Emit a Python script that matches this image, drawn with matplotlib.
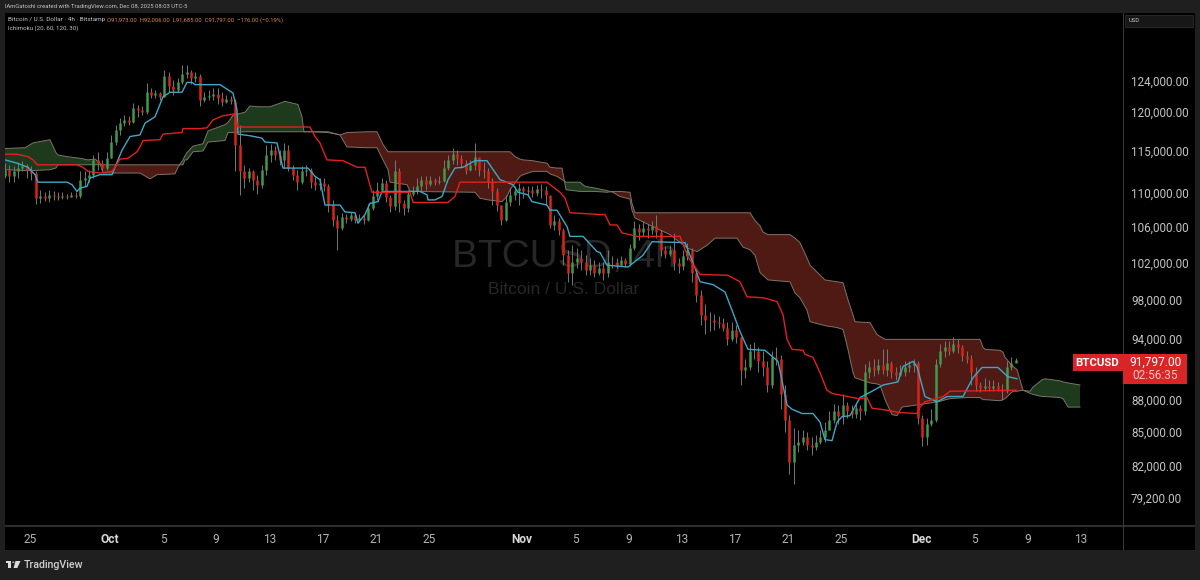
import numpy as np
import matplotlib
matplotlib.use("Agg")
import matplotlib.pyplot as plt
from matplotlib.patches import Rectangle, Circle, Polygon

# 8h candles, the last one is the live bar
closes = [
    112700, 112000, 112500, 112900, 113200, 112700, 112300, 109300, 109600, 109300,
    109700, 109600, 109500, 109600, 109500, 109700, 109600, 111500, 111700, 112100,
    113900, 113500, 112900, 114100, 116100, 117600, 118500, 118900, 118600, 120500,
    120200, 119900, 122500, 122100, 122400, 121900, 124700, 123300, 122800, 123900,
    124900, 125200, 124400, 124700, 121500, 121900, 122000, 122300, 121800, 121200,
    121600, 121300, 115800, 112500, 111700, 112500, 111500, 110900, 112700, 114500,
    115100, 114500, 113900, 115100, 112900, 112100, 111200, 112500, 112700, 111200,
    110900, 111100, 110800, 108500, 106800, 105900, 107100, 106900, 107300, 106800,
    107000, 106800, 108200, 109600, 110300, 111100, 109500, 108400, 112500, 108700,
    108200, 109800, 110200, 110800, 111500, 111000, 111500, 111200, 111300, 112900,
    113900, 114600, 114100, 113500, 112700, 113300, 114300, 112700, 112500, 111200,
    110100, 108500, 106800, 108900, 109700, 110100, 110500, 110100, 110300, 109900,
    110400, 110300, 109700, 106200, 106600, 105600, 102800, 100900, 102000, 102500,
    102000, 101200, 101700, 100900, 101400, 100900, 102000, 102000, 101700, 102300,
    101800, 103600, 105900, 105400, 105900, 105600, 106100, 105400, 103400, 102900,
    103400, 101900, 101600, 102700, 103400, 100900, 98500, 96400, 95900, 95900,
    95700, 95600, 95100, 93900, 94900, 94100, 90900, 91100, 92700, 92700,
    91700, 91100, 89400, 92100, 91900, 88500, 86100, 82300, 83800, 84100,
    84500, 83800, 83600, 84100, 84500, 85200, 86100, 86900, 86500, 87500,
    86900, 86700, 87200, 86900, 90700, 91100, 90900, 91300, 90900, 91500,
    90700, 90400, 90700, 91100, 91300, 91500, 86300, 84500, 85700, 86100,
    91400, 92700, 93100, 92700, 93400, 93100, 92200, 91900, 90700, 89400,
    89100, 89300, 89100, 89300, 89000, 88800, 91100, 91500, 91797,
]
highs = [
    113500, 113300, 113200, 113700, 113800, 113400, 113200, 112500, 110300, 110000,
    110300, 110100, 110000, 110000, 109800, 110000, 110000, 112500, 112500, 112700,
    114500, 114900, 113900, 114900, 117000, 118300, 119100, 119500, 119400, 121100,
    120800, 120700, 123700, 123100, 122800, 122500, 125500, 125200, 124100, 124400,
    126200, 126100, 125500, 125200, 124900, 122500, 122800, 123100, 123100, 122500,
    122100, 122000, 121600, 118300, 113300, 112900, 112700, 112100, 113300, 115800,
    115900, 115600, 115100, 116000, 115800, 113300, 112700, 113200, 113300, 112900,
    112000, 111700, 111700, 111000, 109100, 107400, 107600, 107500, 107700, 107400,
    107500, 107300, 108600, 110300, 111200, 111700, 111500, 109700, 113900, 112900,
    109100, 110300, 110800, 111700, 112000, 112000, 112000, 111700, 111900, 113900,
    114500, 115400, 115100, 114500, 113900, 113900, 116000, 113900, 113700, 112900,
    111700, 110500, 108500, 109700, 110500, 110800, 111100, 110800, 110800, 110700,
    110900, 111000, 110800, 109300, 107400, 107000, 105900, 103400, 103900, 103600,
    103400, 102800, 102500, 102300, 102000, 102000, 103400, 102700, 102500, 102700,
    102500, 104000, 106600, 106300, 106600, 106300, 106600, 107400, 105600, 103800,
    103900, 105300, 102500, 103400, 104200, 103600, 101400, 99000, 97500, 96700,
    96500, 96300, 96100, 95700, 95700, 95400, 94100, 91900, 93400, 93600,
    93100, 92700, 91700, 92700, 93100, 92300, 89400, 86600, 85400, 85200,
    85200, 85000, 84500, 84700, 85200, 85900, 86900, 87600, 87500, 88500,
    87800, 87500, 87700, 87500, 91400, 91700, 91900, 91900, 92900, 92900,
    91700, 91100, 91300, 91700, 91700, 91900, 91700, 86600, 86300, 87100,
    91900, 93400, 93700, 93700, 94100, 93900, 93300, 92700, 92300, 91100,
    89700, 90100, 89900, 89900, 89700, 89500, 91700, 92100, 92006,
]
lows = [
    111700, 111200, 111200, 111700, 112500, 111700, 111500, 108600, 108700, 109000,
    108900, 109100, 109100, 109200, 109200, 109500, 109300, 109300, 110800, 111200,
    111700, 112700, 112500, 112700, 114100, 115800, 117000, 118100, 118300, 118500,
    119300, 119500, 119700, 121800, 121800, 121500, 121900, 122500, 122100, 122500,
    123600, 124400, 123600, 123900, 120700, 121200, 121500, 121500, 121000, 120700,
    121100, 121000, 112500, 109700, 110500, 111200, 110300, 109800, 110500, 112100,
    113700, 113900, 113300, 112900, 112500, 111500, 110300, 111000, 112000, 110500,
    110300, 110300, 110100, 107700, 106100, 103400, 105600, 106400, 106600, 106400,
    106600, 106300, 106600, 107900, 109100, 110100, 108900, 107700, 107900, 107700,
    107300, 107700, 109600, 109800, 110100, 110300, 110800, 110900, 111000, 111200,
    112700, 113400, 113300, 112900, 112200, 112500, 112700, 112000, 111700, 110500,
    108500, 107800, 106200, 106600, 108400, 109100, 108500, 109300, 109600, 109500,
    109600, 109300, 108500, 105900, 105600, 105100, 101700, 99900, 99600, 101400,
    101200, 100600, 100600, 100400, 100600, 100100, 100400, 101400, 101400, 101600,
    101500, 101600, 103400, 104500, 104900, 104700, 105200, 104700, 102700, 102500,
    102700, 101200, 100900, 101200, 102300, 99900, 97800, 95400, 94400, 94700,
    94900, 95100, 94700, 93300, 93700, 93500, 89400, 90100, 90900, 91900,
    90700, 90300, 88700, 89100, 91300, 87100, 85000, 81200, 80400, 83200,
    83800, 83400, 82900, 83400, 83900, 84100, 85200, 85800, 85700, 85700,
    86300, 86300, 86300, 86100, 86600, 90100, 90300, 90500, 90500, 90300,
    90100, 89900, 90300, 90300, 90700, 90700, 85700, 83700, 83800, 85500,
    85900, 91100, 92100, 92300, 92500, 92500, 91700, 91500, 89400, 88800,
    88700, 88800, 88800, 88800, 88800, 88000, 88600, 90900, 91685,
]
first_open = 112000
last_candle_day = 74.1

# conversion line, days counted from Sep 25
tenkan_day = [
    -1.88, -0.98, -0.15, 0.38, 0.60, 2.78, 3.16, 3.53, 3.76, 4.29, 4.51, 5.26, 6.17, 6.39, 6.92,
    7.52, 8.27, 8.65, 9.40, 10.00, 10.53, 11.43, 11.80, 12.18, 12.41, 14.29, 15.26, 15.56, 15.64,
    16.54, 17.44, 17.67, 18.57, 19.02, 20.90, 21.43, 21.80, 22.18, 23.31, 23.68, 24.44, 24.66,
    25.19, 25.56, 26.17, 26.47, 29.32, 29.85, 29.92, 30.45, 30.98, 31.43, 31.95, 32.56, 33.46,
    34.36, 35.34, 36.32, 36.69, 37.44, 37.74, 38.87, 39.10, 39.62, 40.38, 40.60, 41.58, 42.63,
    42.86, 43.38, 44.96, 46.09, 46.77, 49.25, 50.00, 50.38, 51.35, 52.26, 52.78, 53.38, 53.98,
    55.26, 56.24, 56.92, 57.29, 58.05, 58.87, 59.40, 59.77, 60.30, 60.68, 61.05, 61.65, 62.41,
    63.16, 64.14, 65.26, 65.64, 66.39, 66.69, 67.29, 68.20, 68.95, 70.15, 70.90, 71.58, 72.78,
    73.53, 74.21,
]
tenkan = [
    113900, 113500, 113000, 112100, 111200, 111200, 110900, 110100, 110500, 110700, 111700, 112100,
    112100, 113000, 115100, 116800, 117000, 118500, 119300, 121900, 122500, 122500, 123800, 123800,
    123500, 123500, 122400, 120200, 117100, 116900, 116600, 116100, 116000, 112900, 112900, 111900,
    111500, 108500, 108500, 107700, 107600, 106400, 107400, 108700, 108900, 110100, 110100, 109700,
    109100, 109100, 109500, 111500, 112900, 113000, 113800, 113800, 111500, 110900, 110000, 109700,
    108900, 108500, 107900, 107900, 106000, 104900, 104900, 103200, 103100, 101700, 101500, 102800,
    104300, 104200, 101400, 99900, 99600, 98800, 96900, 94700, 92900, 92800, 91700, 87500, 87100,
    86700, 86700, 85900, 84300, 84200, 85900, 86400, 86500, 88200, 88700, 89400, 89700, 91200,
    91700, 91200, 88300, 87800, 88300, 88300, 90100, 91100, 91100, 90200, 90000,
]

# base line
kijun_day = [
    -1.88, -0.98, -0.15, 0.23, 0.53, 3.53, 3.98, 4.36, 5.26, 6.17, 6.39, 6.77, 7.37, 8.05, 8.27,
    8.50, 9.77, 10.00, 11.43, 11.50, 12.78, 13.31, 13.76, 14.44, 15.41, 15.64, 21.05, 21.43, 21.80,
    22.33, 23.53, 24.59, 25.19, 25.71, 28.57, 28.80, 31.43, 31.95, 32.33, 38.87, 39.85, 40.23,
    40.60, 42.86, 43.23, 43.61, 44.14, 44.51, 45.64, 48.87, 49.47, 50.38, 52.48, 53.38, 53.91,
    55.11, 56.17, 56.62, 56.92, 57.29, 58.12, 58.27, 58.87, 59.40, 59.92, 60.30, 62.26, 62.93,
    63.31, 64.51, 65.26, 66.69, 66.92, 67.29, 68.65, 69.17, 74.14,
]
kijun = [
    114600, 114600, 114300, 113900, 113300, 113300, 113000, 112500, 112300, 112500, 113000, 114000,
    114100, 114900, 115500, 116300, 116400, 117100, 117300, 117800, 117800, 117900, 118900, 119400,
    119700, 118000, 118000, 116800, 116000, 113900, 113800, 113000, 113000, 110000, 110000, 108800,
    108800, 109500, 111200, 111200, 110000, 109300, 107600, 107400, 107400, 106200, 106200, 105300,
    104900, 104900, 102600, 100700, 100600, 99900, 98300, 98200, 97800, 96400, 93900, 92900, 92800,
    92400, 92100, 90600, 88900, 88600, 88100, 88200, 87200, 87000, 86800, 86700, 87300, 87800,
    88300, 88800, 88900,
]

# cloud edges, read at the same days so they can be filled
cloud_day = [
    -1.88, -0.38, 0.23, 1.50, 1.95, 2.11, 2.78, 3.76, 4.36, 4.89, 5.26, 5.49, 8.27, 9.02, 9.55,
    10.90, 11.13, 11.50, 11.65, 11.80, 12.26, 13.01, 13.38, 14.66, 14.89, 15.26, 16.17, 16.54,
    17.14, 18.05, 19.17, 20.15, 20.45, 20.60, 21.28, 22.41, 23.31, 23.83, 25.34, 26.09, 26.54,
    26.92, 27.07, 28.35, 28.57, 33.46, 33.83, 34.44, 35.49, 35.86, 36.09, 36.47, 36.84, 37.07,
    37.82, 38.12, 38.87, 39.10, 39.62, 40.00, 40.30, 41.35, 41.73, 42.48, 43.38, 43.83, 44.36,
    45.11, 45.26, 45.49, 46.84, 48.12, 49.40, 50.15, 50.90, 51.50, 53.16, 53.61, 54.14, 54.51,
    54.89, 55.11, 55.49, 57.14, 57.52, 57.89, 58.42, 58.65, 59.77, 60.68, 61.13, 61.50, 61.88,
    62.03, 63.16, 63.68, 63.91, 64.29, 64.81, 65.19, 65.56, 66.69, 68.27, 69.17, 70.45, 71.43,
    71.65, 71.80, 72.93, 73.16, 73.31, 73.91, 74.21, 74.66, 75.19, 75.41, 76.09, 76.32, 77.44,
    77.67, 78.05, 78.95,
]
span_a = [
    115300, 115400, 116000, 116400, 114800, 114500, 114300, 114100, 113900, 114000, 113500, 112300,
    112300, 111600, 112100, 112200, 113000, 113900, 114400, 114800, 115600, 115900, 117500, 118300,
    118600, 119500, 119900, 120700, 120600, 120600, 121300, 120900, 119300, 117400, 117400, 117300,
    117000, 115500, 115400, 115400, 113900, 112700, 111200, 110900, 110100, 110000, 109300, 109100,
    108900, 109500, 110300, 111100, 111900, 112100, 112500, 112500, 112500, 112200, 111900, 111500,
    111200, 111200, 110700, 110500, 110200, 110000, 109500, 109200, 107900, 107000, 106000, 105100,
    103600, 103200, 103900, 104700, 104700, 103700, 103400, 102800, 100900, 100600, 100100, 99900,
    98700, 98200, 96900, 95700, 95300, 95100, 94900, 92900, 90600, 90100, 89600, 89500, 89400,
    88000, 86600, 86500, 87300, 87500, 87800, 88100, 88200, 88200, 88000, 88000, 87900, 88000,
    88100, 88800, 88800, 88900, 88800, 89200, 89900, 90000, 89800, 89700, 89600, 89400,
]
span_b = [
    112700, 112600, 112600, 112700, 112900, 113300, 113300, 113300, 113300, 113300, 113300, 113300,
    113300, 113300, 113300, 113300, 113300, 113300, 113900, 113900, 114900, 115000, 116100, 116300,
    117300, 117300, 117400, 117400, 117400, 117400, 117400, 117400, 117400, 117400, 117400, 117400,
    117000, 117300, 117400, 117400, 115800, 114900, 114900, 114900, 114900, 114900, 114900, 114900,
    114900, 114900, 114900, 114300, 114000, 113900, 113800, 113700, 113500, 113000, 112900, 112900,
    110300, 110100, 110100, 110100, 110000, 110100, 110100, 110000, 108700, 107600, 107600, 107600,
    107600, 107600, 107600, 107600, 107600, 107600, 107600, 106700, 106100, 105400, 105100, 105100,
    104700, 104200, 102500, 101700, 100100, 99900, 99800, 98000, 96400, 95700, 95600, 94400, 94200,
    93900, 93900, 93900, 93900, 93900, 93900, 93900, 93900, 93900, 93100, 92900, 92800, 92600,
    92100, 91200, 90900, 88900, 88600, 88500, 88300, 88300, 88200, 88100, 87300, 87300,
]

tick_days = [0, 6, 10, 14, 18, 22, 26, 30, 37, 41, 45, 49, 53, 57, 61, 67, 71, 75, 79]
tick_labels = ["25", "Oct", "5", "9", "13", "17", "21", "25", "Nov", "5", "9", "13", "17", "21", "25", "Dec", "5", "9", "13"]
month_labels = ["Oct", "Nov", "Dec"]
price_ticks = [124000, 120000, 115000, 110000, 106000, 102000, 98000, 94000, 88000, 85000, 82000, 79200]

W, H = 1200, 580
UP, DOWN, WICK = "#3f9a4e", "#dc2318", "#777777"
GREEN_CLOUD, RED_CLOUD = "#1d3b1c", "#4f1a14"
EDGE = "#7d7468"
TENKAN, KIJUN = "#3aa9c9", "#e2211c"
LABEL = "#c4c4c4"
FONT = "Roboto"

plt.rcParams["font.family"] = [FONT, "DejaVu Sans"]


def fx(x):
    return x / W


def fy(y):
    return 1 - y / H


def label(x, y, s, **kw):
    kw.setdefault("color", LABEL)
    kw.setdefault("va", "center")
    fig.text(fx(x), fy(y), s, **kw)


def box(x0, y0, x1, y1, **kw):
    fig.add_artist(Rectangle((fx(x0), fy(y1)), fx(x1) - fx(x0), fy(y0) - fy(y1),
                             transform=fig.transFigure, **kw))


fig = plt.figure(figsize=(W / 100, H / 100), dpi=100, facecolor="#1f1f1f")
box(5, 13, 1195, 550, facecolor="black", edgecolor="none", zorder=-5)

ax = fig.add_axes([fx(5), fy(525), fx(1118), 512 / H])
ax.set_facecolor("black")
ax.set_yscale("log")

# watermark goes under everything
ax.text(0.5, 0.523, "BTCUSD, 4h", transform=ax.transAxes, color="#272727", fontsize=28,
        family="Liberation Sans", ha="center", va="center", zorder=0)
ax.text(0.5, 0.459, "Bitcoin / U.S. Dollar", transform=ax.transAxes, color="#272727", fontsize=12.5,
        family="Liberation Sans", ha="center", va="center", zorder=0)

# cloud
a = np.array(span_a)
b = np.array(span_b)
days = np.array(cloud_day)
ax.fill_between(days, a, b, where=a >= b, interpolate=True, color=GREEN_CLOUD, lw=0, zorder=1)
ax.fill_between(days, a, b, where=a <= b, interpolate=True, color=RED_CLOUD, lw=0, zorder=1)
ax.plot(days, a, color=EDGE, lw=0.7, zorder=2)
ax.plot(days, b, color=EDGE, lw=0.7, zorder=2)

# candles
c = np.array(closes)
o = np.r_[first_open, c[:-1]]
x = last_candle_day - (len(c) - 1 - np.arange(len(c))) / 3
up = c >= o
ax.vlines(x, lows, highs, color=WICK, lw=0.7, zorder=3)
ax.vlines(x[up], o[up], c[up], color=UP, lw=1.8, zorder=4)
ax.vlines(x[~up], c[~up], o[~up], color=DOWN, lw=1.8, zorder=4)

ax.plot(tenkan_day, tenkan, color=TENKAN, lw=1.0, zorder=5)
ax.plot(kijun_day, kijun, color=KIJUN, lw=1.0, zorder=6)

ax.set_xlim(-1.88, 82.18)
ax.set_ylim(76900, 133400)
ax.yaxis.tick_right()
ax.set_yticks(price_ticks)
ax.set_yticklabels([f"{p:,.2f}" for p in price_ticks])
ax.minorticks_off()
ax.tick_params(axis="y", length=0, pad=5.8, labelsize=8.4, labelcolor=LABEL)
ax.set_xticks(tick_days)
ax.set_xticklabels(tick_labels)
ax.tick_params(axis="x", length=0, pad=5.5, labelsize=8.6, labelcolor="#b4b4b4")
for t in ax.get_xticklabels():
    if t.get_text() in month_labels:
        t.set_fontweight("bold")
        t.set_color("#d8d8d8")
for s in ax.spines.values():
    s.set_visible(False)

# pane borders
box(5, 525, 1195, 526.5, facecolor="#2e2e2e", edgecolor="none", zorder=5)
box(1122.5, 13, 1123.5, 550, facecolor="#3a3a3a", edgecolor="none", zorder=5)

# header lines
label(5, 6.5, "IAmGatoshi created with TradingView.com, Dec 08, 2025 08:03 UTC-5", fontsize=4.25)
label(8, 20, "Bitcoin / U.S. Dollar \u00b7 4h \u00b7 Bitstamp", fontsize=4.55)
label(107, 20, "O91,973.00  H92,006.00  L91,685.00  C91,797.00  \u2212176.00 (\u22120.19%)",
      fontsize=4.2, color="#d98a4a")
label(8, 28.5, "Ichimoku (20, 60, 120, 30)", fontsize=4.4)

# USD box on the price scale
box(1125, 15, 1193, 27, facecolor="#171717", edgecolor="#2c2c2c", lw=0.6, zorder=6)
label(1129, 21, "USD", fontsize=4.2, zorder=7)

# last price tag
RED_TAG = "#d92525"
box(1073, 354, 1122.5, 371, facecolor=RED_TAG, edgecolor="none", zorder=6)
box(1122.5, 354, 1187, 384, facecolor=RED_TAG, edgecolor="none", zorder=6)
label(1097.5, 362.5, "BTCUSD", color="white", fontsize=8.2, fontweight="bold", ha="center", zorder=7)
label(1155, 362, "91,797.00", color="white", fontsize=8.6, ha="center", zorder=7)
label(1155, 375.5, "02:56:35", color="#f6c4c4", fontsize=8.6, ha="center", zorder=7)

# TradingView logo and name in the footer
logo = "#dcdcdc"
box(6, 561, 11, 563.3, facecolor=logo, edgecolor="none")
box(8.4, 561, 11, 568, facecolor=logo, edgecolor="none")
fig.add_artist(Polygon([(fx(15.5), fy(561)), (fx(20.5), fy(561)), (fx(17.3), fy(568)), (fx(13.6), fy(568))],
                       transform=fig.transFigure, facecolor=logo, edgecolor="none"))
fig.add_artist(Circle((fx(13.3), fy(562.2)), 1.2 / W, transform=fig.transFigure, facecolor=logo, edgecolor="none"))
label(24, 564.5, "TradingView", fontsize=7.7, color="#d0d0d0", fontweight="medium")

fig.savefig("out.png", dpi=100, facecolor=fig.get_facecolor())
